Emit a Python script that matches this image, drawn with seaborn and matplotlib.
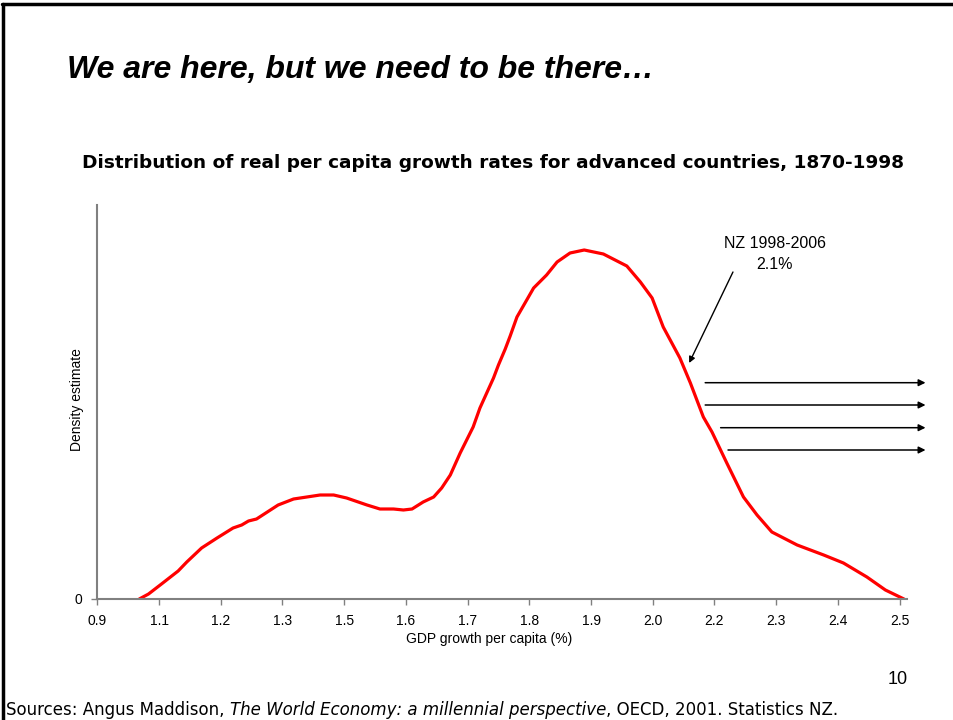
import matplotlib
matplotlib.use("Agg")
import matplotlib.pyplot as plt
from matplotlib.lines import Line2D
import seaborn as sns
import pandas as pd

# Category labels along the growth axis (evenly spaced ticks)
growth_labels = ["0.9", "1.1", "1.2", "1.3", "1.5", "1.6", "1.7",
                 "1.8", "1.9", "2.0", "2.2", "2.3", "2.4", "2.5"]

# Kernel density curve, x in tick-index units of the growth axis
curve_pos = [0.68, 0.83, 1.04, 1.31, 1.45, 1.69, 1.94, 2.20, 2.34, 2.45,
             2.58, 2.93, 3.18, 3.61, 3.83, 4.04, 4.37, 4.58, 4.80, 4.96,
             5.10, 5.28, 5.45, 5.58, 5.72, 5.88, 6.09, 6.20, 6.31, 6.42,
             6.50, 6.61, 6.69, 6.80, 7.07, 7.28, 7.45, 7.66, 7.89, 8.20,
             8.58, 8.80, 8.99, 9.17, 9.44, 9.61, 9.82, 9.96, 10.20, 10.47,
             10.69, 10.93, 11.34, 11.77, 12.09, 12.47, 12.77, 13.07]
density = [0.00, 0.05, 0.15, 0.28, 0.37, 0.51, 0.61, 0.71, 0.74, 0.78,
           0.80, 0.94, 1.00, 1.04, 1.04, 1.01, 0.94, 0.90, 0.90, 0.89,
           0.90, 0.97, 1.02, 1.11, 1.24, 1.46, 1.72, 1.91, 2.06, 2.21,
           2.34, 2.50, 2.63, 2.82, 3.11, 3.24, 3.37, 3.46, 3.49, 3.45,
           3.33, 3.17, 3.01, 2.72, 2.41, 2.16, 1.82, 1.67, 1.36, 1.02,
           0.84, 0.67, 0.54, 0.44, 0.36, 0.22, 0.09, 0.00]

sns.set_style("white")
plt.rcParams["font.family"] = ["Liberation Sans", "DejaVu Sans"]
plt.rcParams["text.color"] = "black"
plt.rcParams["axes.labelcolor"] = "black"

W, H = 954, 720
fig = plt.figure(figsize=(W / 100, H / 100), dpi=100)


def fx(px):
    return px / W


def fy(py):
    return 1 - py / H


AX_L, AX_R, AX_T, AX_B = 97.3, 907.0, 205.0, 599.0
ax = fig.add_axes([fx(AX_L), fy(AX_B), fx(AX_R) - fx(AX_L), fy(AX_T) - fy(AX_B)])

df = pd.DataFrame({"pos": curve_pos, "density": density})
sns.lineplot(data=df, x="pos", y="density", ax=ax, color="#ff0000",
             linewidth=2.3, sort=False, estimator=None)

ax.set_xlim(0, 13.12)
ax.set_ylim(0, 3.94)
ax.set_xticks(range(len(growth_labels)))
ax.set_xticklabels(growth_labels)
ax.set_yticks([0])
ax.set_yticklabels(["0"])
ax.set_xlabel("")
ax.set_ylabel("")

grey = "#808080"
for side in ["top", "right"]:
    ax.spines[side].set_visible(False)
for side in ["left", "bottom"]:
    ax.spines[side].set_color(grey)
    ax.spines[side].set_linewidth(1.5)
ax.tick_params(axis="both", direction="out", length=4, width=1, color=grey,
               labelsize=10, labelcolor="black", pad=7, bottom=True, left=True)

# Axis titles
fig.text(fx(489), fy(639), "GDP growth per capita (%)", ha="center", va="center",
         fontsize=10)
fig.text(fx(77), fy(400), "Density estimate", ha="center", va="center",
         rotation=90, fontsize=10)

# NZ annotation
ax.text(10.98, 3.45, "NZ 1998-2006\n2.1%", ha="center", va="center",
        fontsize=11.5, linespacing=1.45)
ax.annotate("", xy=(9.59, 2.36), xytext=(10.30, 3.27),
            arrowprops=dict(arrowstyle="-|>", color="black", lw=1.0,
                            mutation_scale=9, shrinkA=0, shrinkB=0),
            annotation_clip=False)

# Horizontal arrows pointing to the right tail
for x0, y0 in [(9.85, 2.163), (9.85, 1.94), (10.10, 1.713), (10.22, 1.49)]:
    ax.annotate("", xy=(13.42, y0), xytext=(x0, y0),
                arrowprops=dict(arrowstyle="-|>", color="black", lw=1.1,
                                mutation_scale=10, shrinkA=0, shrinkB=0),
                annotation_clip=False)

# Slide title and chart subtitle
fig.text(fx(67), fy(70), "We are here, but we need to be there…", ha="left",
         va="center", fontsize=23, fontweight="bold", fontstyle="italic")
fig.text(fx(493), fy(163),
         "Distribution of real per capita growth rates for advanced countries, 1870-1998",
         ha="center", va="center", fontsize=13.3, fontweight="bold",
         family="DejaVu Sans")

# Page number
fig.text(fx(898), fy(680), "10", ha="center", va="center", fontsize=13)

# Source line with italic book title
src_kw = dict(fontsize=12, family="DejaVu Sans", va="bottom", ha="left")
t1 = fig.text(fx(6), fy(719), "Sources: Angus Maddison, ", **src_kw)
t2 = fig.text(0, 0, "The World Economy: a millennial perspective", style="italic",
              **src_kw)
t3 = fig.text(0, 0, ", OECD, 2001. Statistics NZ.", **src_kw)
fig.canvas.draw()
r = fig.canvas.get_renderer()
b1 = t1.get_window_extent(r)
t2.set_position((b1.x1 / fig.bbox.width, b1.y0 / fig.bbox.height))
b2 = t2.get_window_extent(r)
t3.set_position((b2.x1 / fig.bbox.width, b2.y0 / fig.bbox.height))

# Slide frame (top and left edges)
fig.add_artist(Line2D([fx(3), fx(3)], [fy(4), 0], color="black", lw=2.5,
                      transform=fig.transFigure))
fig.add_artist(Line2D([fx(2), 1], [fy(4), fy(4)], color="black", lw=2.5,
                      transform=fig.transFigure))

fig.savefig("out.png", dpi=100)
